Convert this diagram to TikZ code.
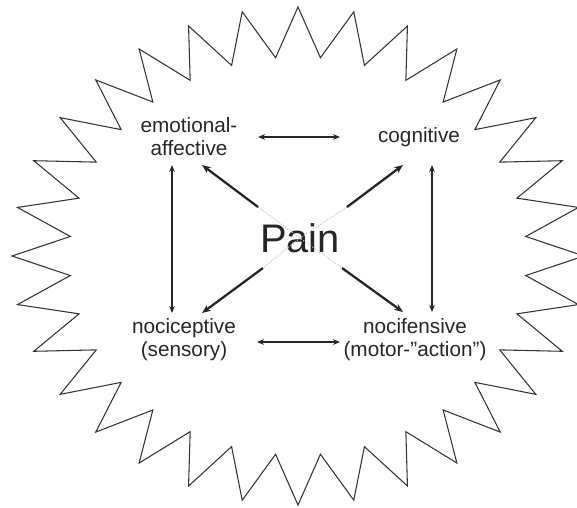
\documentclass[tikz,border=0pt]{standalone}
\usepackage{fontspec}
\setmainfont{Liberation Sans}
\usetikzlibrary{arrows.meta,calc,positioning}

\begin{document}
\begin{tikzpicture}[x=0.02cm,y=-0.02cm,
every node/.style={align=center,text=black!85,font=\fontsize{11.8}{13}\selectfont},
link/.style={{Stealth[length=4pt,width=3.2pt]}-{Stealth[length=4pt,width=3.2pt]},line width=0.8pt,black!85},
ray/.style={-{Stealth[length=5pt,width=4pt]},line width=1.3pt,black!85},
fade/.style={densely dotted,black!25,line width=0.6pt}]
\useasboundingbox (0,0) rectangle (577,507);
% starburst
\draw[black!80,line width=0.6pt] (298+286,256)
  \foreach \k [evaluate=\k as \r using {1-0.2*mod(\k,2)}] in {1,...,63}{
  -- ({298+286*\r*cos(\k*5.625)},{256-249*\r*sin(\k*5.625)})} -- cycle;
\node (emo) at (189,137) {emotional-\\affective};
\node (cog) at (419,137) {cognitive};
\node (noc) at (184,340) {nociceptive\\(sensory)};
\node (nof) at (415,340) {nocifensive\\(motor-”action”)};
\node[font=\fontsize{22.7}{24}\selectfont] (pain) at (300,238) {Pain};
\draw[link] ($(emo.center)+(69,0)$) -- ($(cog.center)+(-79,0)$);
\draw[link] ($(noc.center)+(73,2)$) -- ($(nof.center)+(-75,2)$);
\draw[link] ($(emo.center)+(-17,28)$) -- ($(noc.center)+(-12,-27)$);
\draw[link] ($(cog.center)+(13,28)$) -- ($(nof.center)+(17,-28)$);
% diagonals
\draw[fade] ($(pain.center)+(-42,-31)$) -- (pain.center) -- ($(pain.center)+(42,30)$);
\draw[fade] ($(pain.center)+(47,-31)$) -- (pain.center) -- ($(pain.center)+(-37,30)$);
\draw[ray] ($(pain.center)+(-42,-31)$) -- ($(emo.center)+(13,28)$);
\draw[ray] ($(pain.center)+(47,-31)$) -- ($(cog.center)+(-16,28)$);
\draw[ray] ($(pain.center)+(-37,30)$) -- ($(noc.center)+(18,-27)$);
\draw[ray] ($(pain.center)+(42,30)$) -- ($(nof.center)+(-12,-28)$);
\end{tikzpicture}
\end{document}
